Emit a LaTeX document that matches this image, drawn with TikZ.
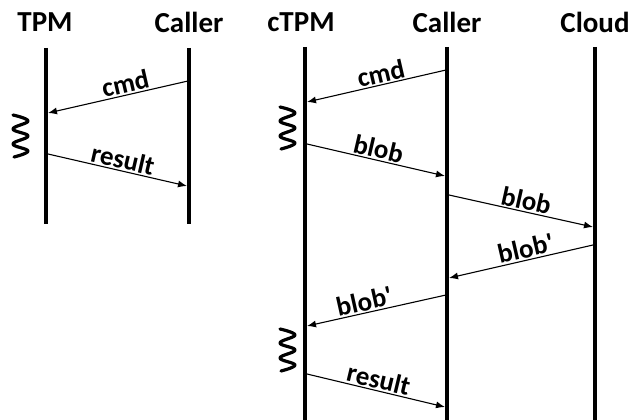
\documentclass[tikz,border=0pt]{standalone}
\usepackage{fontspec}
\setmainfont{Carlito}
\usetikzlibrary{arrows.meta}
\begin{document}
\begin{tikzpicture}[x=1pt,y=-1pt,
  title/.style={font=\fontsize{29}{29}\selectfont\bfseries, inner sep=0pt},
  lifeline/.style={line width=3.6pt},
  msg/.style={line width=1.1pt, -{Latex[length=9pt,width=7pt]}},
  lbl/.style={font=\fontsize{27}{27}\selectfont\bfseries, sloped, above, inner sep=1.5pt},
  wavy/.style={line width=3.2pt, line join=round, line cap=round}]
\useasboundingbox (0,0) rectangle (633,420);
% titles
\node[title] (tpm) at (45,22) {TPM};
\node[title] (caller1) at (189,22) {Caller};
\node[title] (ctpm) at (301,22) {cTPM};
\node[title] (caller2) at (447,22) {Caller};
\node[title] (cloud) at (595,22) {Cloud};
% lifelines
\coordinate (tpmT) at (46,48); \coordinate (tpmB) at (46,224);
\coordinate (c1T) at (189,48); \coordinate (c1B) at (189,224);
\coordinate (ctT) at (305,47); \coordinate (ctB) at (305,420);
\coordinate (c2T) at (447,47); \coordinate (c2B) at (447,420);
\coordinate (clT) at (595,47); \coordinate (clB) at (595,420);
\draw[lifeline] (tpmT) -- (tpmB);
\draw[lifeline] (c1T) -- (c1B);
\draw[lifeline] (ctT) -- (ctB);
\draw[lifeline] (c2T) -- (c2B);
\draw[lifeline] (clT) -- (clB);
% left messages
\coordinate (a1) at (188,81); \coordinate (a2) at (48,113);
\draw[msg] (a1) -- node[lbl, pos=0.43] {cmd} (a2);
\coordinate (b1) at (48,154); \coordinate (b2) at (187,186);
\draw[msg] (b1) -- node[lbl, pos=0.52] {result} (b2);
\draw[wavy] plot[smooth, tension=0.7] coordinates {(13,115) (28,121) (13,129) (28,136) (13,144) (28,151) (14,157)};
% right messages
\coordinate (m1a) at (446,70); \coordinate (m1b) at (307,102);
\draw[msg] (m1a) -- node[lbl, pos=0.45] {cmd} (m1b);
\coordinate (m2a) at (307,144); \coordinate (m2b) at (445,176);
\draw[msg] (m2a) -- node[lbl, pos=0.5] {blob} (m2b);
\coordinate (m3a) at (449,195); \coordinate (m3b) at (593,227);
\draw[msg] (m3a) -- node[lbl, pos=0.52] {blob} (m3b);
\coordinate (m4a) at (593,245); \coordinate (m4b) at (449,278);
\draw[msg] (m4a) -- node[lbl, pos=0.45] {blob\textquotesingle} (m4b);
\coordinate (m5a) at (446,295); \coordinate (m5b) at (307,326);
\draw[msg] (m5a) -- node[lbl, pos=0.57] {blob\textquotesingle} (m5b);
\coordinate (m6a) at (307,374); \coordinate (m6b) at (445,407);
\draw[msg] (m6a) -- node[lbl, pos=0.5] {result} (m6b);
\draw[wavy] plot[smooth, tension=0.7] coordinates {(280,107) (295,113) (280,121) (295,128) (280,136) (295,143) (281,149)};
\draw[wavy] plot[smooth, tension=0.7] coordinates {(280,329) (295,335) (280,343) (295,350) (280,358) (295,365) (281,371)};
\end{tikzpicture}
\end{document}
